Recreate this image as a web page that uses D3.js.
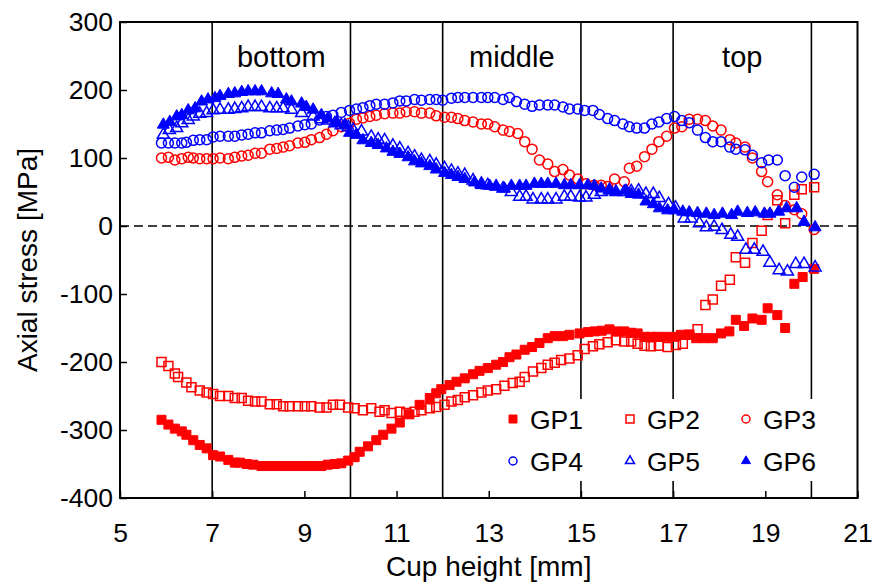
<!DOCTYPE html>
<html><head><meta charset="utf-8">
<script src="https://cdn.jsdelivr.net/npm/d3@7"></script>
<style>body{margin:0;background:#fff;} text{font-family:"Liberation Sans",Arial,sans-serif;fill:#000;}</style>
</head><body>
<svg id="c" width="875" height="586"></svg>
<script>
const xTicks = [5,7,9,11,13,15,17,19,21];
const yTicks = [-400,-300,-200,-100,0,100,200,300];
const regionLines = [7,10,12,15,17,20];
const regionLabels = [{name:"bottom",x:8.5},{name:"middle",x:13.5},{name:"top",x:18.5}];

const GP1 = [[5.90,-285],[6.05,-292],[6.19,-298],[6.34,-302],[6.44,-307],[6.59,-315],[6.73,-322],[6.88,-327],[7.02,-337],[7.17,-339],[7.35,-344],[7.49,-348],[7.60,-348],[7.75,-350],[7.89,-351],[8.07,-353],[8.22,-353],[8.36,-353],[8.51,-353],[8.65,-353],[8.80,-353],[8.94,-353],[9.08,-353],[9.23,-353],[9.37,-353],[9.51,-351],[9.66,-350],[9.80,-349],[9.95,-345],[10.09,-340],[10.20,-332],[10.38,-324],[10.56,-315],[10.71,-307],[10.89,-298],[11.07,-289],[11.28,-277],[11.50,-263],[11.72,-253],[11.86,-246],[11.97,-240],[12.15,-234],[12.30,-229],[12.48,-224],[12.66,-218],[12.80,-213],[12.98,-209],[13.16,-204],[13.31,-200],[13.45,-193],[13.60,-189],[13.78,-182],[13.94,-178],[14.10,-172],[14.28,-165],[14.43,-162],[14.61,-162],[14.75,-160],[14.97,-158],[15.15,-156],[15.30,-155],[15.45,-154],[15.62,-152],[15.76,-155],[15.94,-155],[16.09,-157],[16.23,-158],[16.38,-163],[16.52,-163],[16.66,-163],[16.84,-163],[17.03,-163],[17.17,-160],[17.35,-160],[17.50,-165],[17.68,-165],[17.86,-165],[18.04,-158],[18.22,-155],[18.36,-138],[18.54,-147],[18.72,-136],[18.92,-138],[19.05,-121],[19.26,-131],[19.43,-150],[19.63,-85],[19.81,-75],[20.06,-63]];

const GP2 = [[5.90,-200],[6.05,-206],[6.19,-217],[6.26,-222],[6.44,-230],[6.55,-237],[6.73,-242],[6.88,-245],[7.02,-247],[7.17,-250],[7.35,-250],[7.49,-253],[7.64,-253],[7.78,-257],[7.93,-258],[8.07,-258],[8.25,-262],[8.40,-262],[8.54,-265],[8.68,-265],[8.86,-265],[9.01,-265],[9.15,-265],[9.33,-267],[9.48,-267],[9.62,-263],[9.77,-263],[9.95,-267],[10.09,-268],[10.27,-271],[10.45,-268],[10.63,-273],[10.74,-271],[10.89,-275],[11.07,-273],[11.21,-275],[11.39,-273],[11.54,-271],[11.72,-268],[11.86,-266],[12.04,-263],[12.19,-258],[12.33,-256],[12.48,-252],[12.66,-249],[12.84,-245],[12.98,-242],[13.16,-240],[13.34,-235],[13.52,-231],[13.67,-229],[13.78,-222],[13.96,-214],[14.14,-209],[14.28,-204],[14.43,-201],[14.57,-197],[14.75,-195],[14.93,-190],[15.08,-181],[15.26,-177],[15.40,-174],[15.58,-171],[15.76,-168],[15.94,-170],[16.09,-170],[16.23,-173],[16.38,-176],[16.52,-177],[16.69,-176],[16.88,-178],[17.06,-175],[17.21,-173],[17.35,-160],[17.53,-152],[17.70,-116],[17.86,-108],[18.04,-88],[18.23,-79],[18.36,-46],[18.56,-54],[18.72,-25],[18.92,-7],[19.05,16],[19.26,38],[19.43,4],[19.63,46],[19.79,54],[20.06,57]];

const GP3 = [[5.90,100],[6.05,101],[6.19,97],[6.34,99],[6.48,101],[6.59,100],[6.73,99],[6.88,99],[7.02,99],[7.17,100],[7.35,99],[7.49,101],[7.64,103],[7.78,104],[7.93,107],[8.07,107],[8.25,113],[8.40,114],[8.54,116],[8.68,118],[8.86,122],[9.01,123],[9.15,127],[9.33,130],[9.48,135],[9.62,140],[9.80,146],[9.98,151],[10.13,157],[10.27,159],[10.42,161],[10.56,163],[10.74,165],[10.92,166],[11.07,166],[11.21,168],[11.39,168],[11.54,166],[11.72,166],[11.86,162],[12.04,160],[12.19,160],[12.33,158],[12.48,155],[12.66,153],[12.84,150],[12.98,150],[13.13,146],[13.31,141],[13.45,139],[13.63,136],[13.78,124],[13.94,113],[14.10,97],[14.28,91],[14.43,80],[14.61,83],[14.75,75],[14.93,69],[15.11,62],[15.29,60],[15.44,60],[15.58,58],[15.73,69],[15.94,65],[16.05,85],[16.21,88],[16.38,102],[16.54,113],[16.69,124],[16.86,132],[17.03,144],[17.19,146],[17.35,157],[17.53,157],[17.70,155],[17.86,147],[18.04,141],[18.23,127],[18.36,122],[18.56,116],[18.72,100],[18.92,80],[19.05,65],[19.26,46],[19.43,30],[19.63,24],[19.79,18],[20.06,-5]];

const GP4 = [[5.90,122],[6.05,122],[6.19,122],[6.34,122],[6.44,123],[6.59,126],[6.73,127],[6.88,127],[7.02,131],[7.17,132],[7.35,132],[7.49,132],[7.64,134],[7.78,135],[7.93,137],[8.07,137],[8.25,140],[8.40,141],[8.54,142],[8.68,144],[8.86,147],[9.01,149],[9.15,150],[9.33,156],[9.48,161],[9.62,163],[9.80,167],[9.98,170],[10.13,172],[10.27,174],[10.42,177],[10.56,179],[10.74,179],[10.92,181],[11.07,184],[11.21,184],[11.39,186],[11.54,185],[11.72,186],[11.86,186],[12.00,185],[12.19,188],[12.33,189],[12.48,189],[12.66,189],[12.84,189],[12.98,189],[13.13,189],[13.31,186],[13.45,189],[13.60,183],[13.78,179],[13.94,176],[14.10,178],[14.28,178],[14.43,178],[14.61,175],[14.75,172],[14.93,172],[15.08,170],[15.26,170],[15.40,164],[15.58,158],[15.73,155],[15.91,150],[16.05,146],[16.21,144],[16.38,144],[16.54,150],[16.69,153],[16.86,158],[17.03,161],[17.19,155],[17.35,152],[17.53,141],[17.70,130],[17.86,124],[18.04,124],[18.23,116],[18.36,113],[18.56,112],[18.72,104],[18.92,93],[19.07,97],[19.26,97],[19.43,74],[19.63,57],[19.79,72],[20.06,76]];

const GP5 = [[5.94,134],[6.07,141],[6.23,144],[6.34,151],[6.48,156],[6.59,161],[6.73,165],[6.88,166],[7.02,170],[7.17,171],[7.35,171],[7.49,172],[7.64,173],[7.78,175],[7.93,175],[8.07,175],[8.25,173],[8.40,173],[8.54,173],[8.72,171],[8.94,166],[9.19,161],[9.37,157],[9.51,155],[9.66,151],[9.80,148],[9.95,145],[10.06,141],[10.24,139],[10.45,131],[10.60,127],[10.74,126],[10.92,118],[11.07,114],[11.25,107],[11.39,102],[11.54,97],[11.72,95],[11.86,90],[12.04,85],[12.19,81],[12.33,77],[12.48,75],[12.66,67],[12.84,62],[12.98,60],[13.16,58],[13.31,55],[13.49,50],[13.67,43],[13.81,43],[13.96,39],[14.14,39],[14.28,39],[14.46,39],[14.64,43],[14.78,43],[14.97,42],[15.11,42],[15.29,46],[15.44,50],[15.62,53],[15.76,50],[15.94,50],[16.09,51],[16.25,52],[16.41,47],[16.57,47],[16.70,41],[16.90,32],[17.05,27],[17.24,11],[17.39,11],[17.57,4],[17.72,-2],[17.89,-1],[18.06,-6],[18.25,-13],[18.40,-16],[18.58,-35],[18.76,-35],[18.95,-38],[19.10,-54],[19.30,-65],[19.48,-67],[19.66,-56],[19.84,-56],[20.08,-61]];

const GP6 = [[5.94,149],[6.08,153],[6.23,161],[6.34,163],[6.48,170],[6.63,173],[6.77,183],[6.91,186],[7.06,188],[7.17,191],[7.35,194],[7.49,195],[7.64,197],[7.78,198],[7.93,198],[8.07,198],[8.29,195],[8.43,194],[8.61,186],[8.72,183],[8.94,180],[9.04,175],[9.19,171],[9.37,163],[9.51,158],[9.70,153],[9.88,149],[9.98,137],[10.13,134],[10.27,126],[10.45,122],[10.60,119],[10.78,114],[10.92,109],[11.07,106],[11.25,101],[11.39,95],[11.54,92],[11.72,88],[11.86,83],[12.04,78],[12.19,75],[12.33,72],[12.48,69],[12.69,64],[12.84,60],[13.02,59],[13.16,58],[13.34,55],[13.49,59],[13.67,59],[13.81,59],[13.99,62],[14.14,62],[14.28,62],[14.46,62],[14.64,60],[14.78,60],[14.97,60],[15.15,60],[15.29,59],[15.44,55],[15.62,52],[15.76,50],[15.98,52],[16.09,47],[16.25,46],[16.41,36],[16.57,32],[16.70,26],[16.88,23],[17.03,23],[17.21,21],[17.35,20],[17.53,19],[17.72,18],[17.89,16],[18.07,18],[18.27,16],[18.40,21],[18.61,19],[18.78,20],[18.98,18],[19.10,18],[19.29,21],[19.46,26],[19.68,26],[19.84,6],[20.08,-2]];

const seriesNames = ["GP1","GP2","GP3","GP4","GP5","GP6"];
const seriesData = [GP1,GP2,GP3,GP4,GP5,GP6];
const seriesColor = ["#ff0000","#ff0000","#ff0000","#0000ff","#0000ff","#0000ff"];
const seriesShape = ["square","square","circle","circle","triangle","triangle"];
const seriesFilled = [true,false,false,false,false,true];

const svg = d3.select("#c");
const L=120,R=857.5,T=22,B=498;
const x = d3.scaleLinear().domain([5,21]).range([L,R]);
const y = d3.scaleLinear().domain([-400,300]).range([B,T]);

const gx = svg.append("g").attr("transform",`translate(0,${B})`)
  .call(d3.axisBottom(x).tickValues(xTicks).tickSize(-7).tickPadding(25).tickFormat(d3.format("d")));
const gy = svg.append("g").attr("transform",`translate(${L},0)`)
  .call(d3.axisLeft(y).tickValues(yTicks).tickSize(-7).tickPadding(7).tickFormat(d3.format("d")));
[gx,gy].forEach(g=>{
  g.select(".domain").remove();
  g.selectAll(".tick line").attr("stroke","#000").attr("stroke-width",1.5);
  g.selectAll("text").attr("font-size",26.5).attr("font-family","Liberation Sans, Arial, sans-serif").attr("fill","#000");
});
gy.selectAll("text").text(d=>d<0?"-"+Math.abs(d):d);

svg.append("g").selectAll("line").data(regionLines).join("line")
  .attr("x1",d=>x(d)).attr("x2",d=>x(d)).attr("y1",T).attr("y2",B)
  .attr("stroke","#000").attr("stroke-width",1.6);
svg.append("line").attr("x1",L).attr("x2",R).attr("y1",y(0)).attr("y2",y(0))
  .attr("stroke","#000").attr("stroke-width",1.6).attr("stroke-dasharray","9,5");

svg.append("g").selectAll("text").data(regionLabels).join("text")
  .attr("x",d=>x(d.x)).attr("y",67).attr("text-anchor","middle").attr("font-size",29).text(d=>d.name);

function sym(shape, size){
  if(shape==="square") return d3.symbol(d3.symbolSquare, size*size)();
  if(shape==="circle") return d3.symbol(d3.symbolCircle, Math.PI*(size/2)*(size/2))();
  return d3.symbol(d3.symbolTriangle, size*size*0.433)();
}

const plot = svg.append("g");
seriesData.forEach((data,i)=>{
  const sz = seriesShape[i]==="square" ? 9 : (seriesShape[i]==="circle" ? 10 : 12);
  plot.append("g").selectAll("path").data(data).join("path")
    .attr("transform",d=>`translate(${x(d[0])},${y(d[1])})`)
    .attr("d",sym(seriesShape[i],sz))
    .attr("fill",seriesFilled[i]?seriesColor[i]:"#fff")
    .attr("fill-opacity",seriesFilled[i]?1:0)
    .attr("stroke",seriesColor[i]).attr("stroke-width",seriesFilled[i]?1:1.5);
});

svg.append("rect").attr("x",L).attr("y",T).attr("width",R-L).attr("height",B-T)
  .attr("fill","none").attr("stroke","#000").attr("stroke-width",2);

const lg = svg.append("g");
lg.append("rect").attr("x",497).attr("y",399).attr("width",355).attr("height",82).attr("fill","#fff");
const legX=[513,630,746], legY=[419,461];
seriesNames.forEach((n,i)=>{
  const cx=legX[i%3], cy=legY[Math.floor(i/3)];
  const sz = seriesShape[i]==="square" ? 8 : (seriesShape[i]==="circle" ? 8 : 9);
  lg.append("path").attr("transform",`translate(${cx},${cy})`).attr("d",sym(seriesShape[i],sz))
    .attr("fill",seriesFilled[i]?seriesColor[i]:"#fff").attr("stroke",seriesColor[i]).attr("stroke-width",seriesFilled[i]?1:1.5);
  lg.append("text").attr("x",cx+17).attr("y",cy+9.5).attr("font-size",26.5).text(n);
});

svg.append("text").attr("x",(L+R)/2).attr("y",576).attr("text-anchor","middle").attr("font-size",28).text("Cup height [mm]");
svg.append("text").attr("transform",`translate(37,${(T+B)/2}) rotate(-90)`).attr("text-anchor","middle").attr("font-size",28).text("Axial stress [MPa]");
</script>
</body></html>
